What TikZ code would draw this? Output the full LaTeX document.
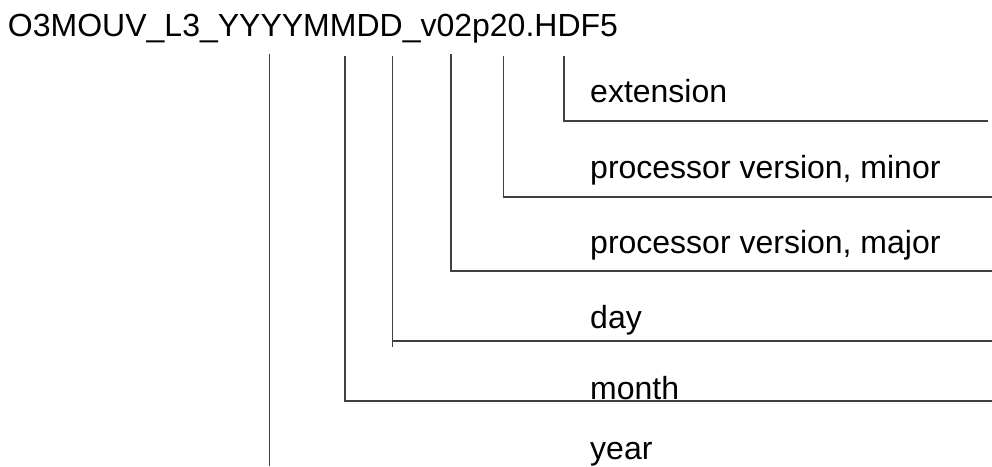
\documentclass[tikz,border=0pt]{standalone}
\usepackage{fontspec}
\setmainfont{Liberation Sans}
\begin{document}
\begin{tikzpicture}[x=1pt,y=1pt,
  lbl/.style={anchor=base west,inner sep=0pt,font=\fontsize{32}{38}\selectfont,text=black},
  conn/.style={draw=black!75,line width=1.2pt,line cap=butt}]
\useasboundingbox (0,0) rectangle (992,-466);
\node[lbl] (title) at (7.8,-36) {O3MOUV\_L3\_YYYYMMDD\_v02p20.HDF5};
\node[lbl] (lext) at (590,-102) {extension};
\node[lbl] (lmin) at (590,-178) {processor version, minor};
\node[lbl] (lmaj) at (590,-253) {processor version, major};
\node[lbl] (lday) at (590,-328) {day};
\node[lbl] (lmon) at (590,-399) {month};
\node[lbl] (lyear) at (590,-459) {year};
% connector end points
\coordinate (yT) at (269.5,-54);
\coordinate (yB) at (269.5,-466);
\coordinate (mT) at (345,-56);
\coordinate (mE) at (992,-401);
\coordinate (dT) at (392.7,-56);
\coordinate (dB) at (392.7,-347);
\coordinate (dC) at (392.7,-341);
\coordinate (dE) at (992,-341);
\coordinate (jT) at (451,-54);
\coordinate (jE) at (992,-271);
\coordinate (nT) at (503.3,-56);
\coordinate (nE) at (992,-197);
\coordinate (eT) at (564,-56);
\coordinate (eE) at (988,-121);
\draw[conn] (yT) -- (yB);
\draw[conn] (mT) |- (mE);
\draw[conn] (dT) -- (dB);
\draw[conn] (dC) -- (dE);
\draw[conn] (jT) |- (jE);
\draw[conn] (nT) |- (nE);
\draw[conn] (eT) |- (eE);
\end{tikzpicture}
\end{document}
